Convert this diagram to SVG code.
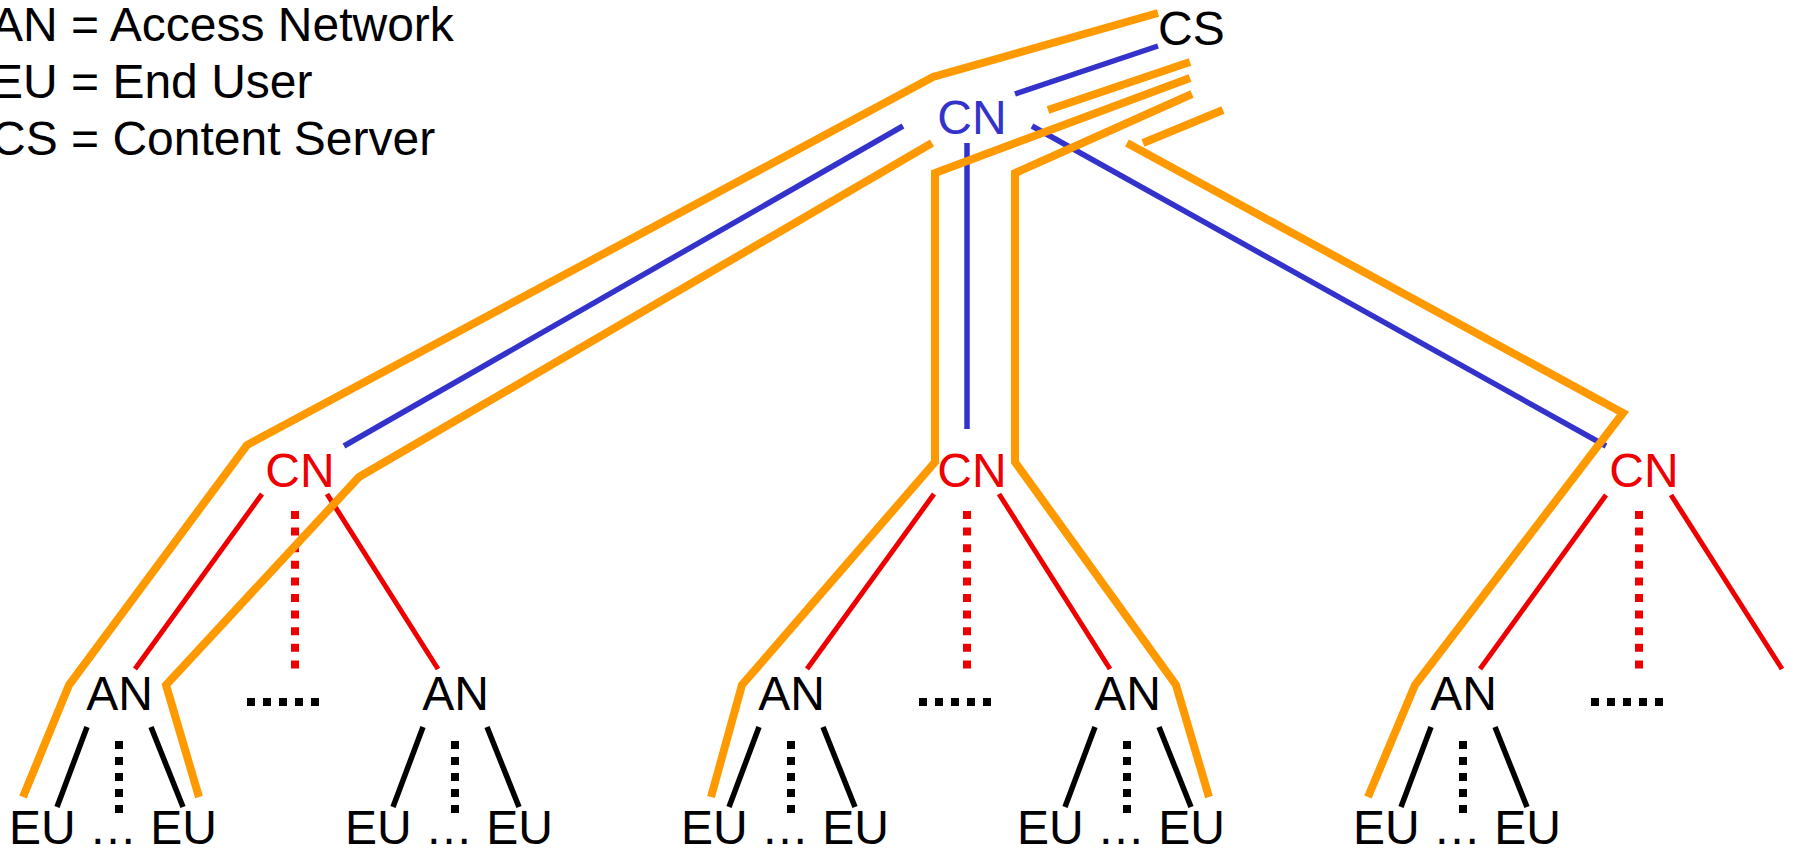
<svg xmlns="http://www.w3.org/2000/svg" width="1794" height="848" viewBox="0 0 1794 848">
  <style>
    text { font-family: "Liberation Sans", Arial, sans-serif; font-size: 48px; }
    .blk { fill: #000000; }
    .cn-top { fill: #3333CC; }
    .cn { fill: #EE0000; }
    .route { fill: none; stroke: #FF9900; stroke-width: 8; stroke-linejoin: miter; }
    .core { fill: none; stroke: #3333CC; stroke-width: 5.5; }
    .agg { fill: none; stroke: #EE0000; stroke-width: 5; }
    .acc { fill: none; stroke: #000000; stroke-width: 5.5; }
    .agg-more { fill: none; stroke: #EE0000; stroke-width: 8; stroke-dasharray: 8 8.6; }
    .acc-more { fill: none; stroke: #000000; stroke-width: 8; stroke-dasharray: 8 8; }
  </style>
  <rect width="1794" height="848" fill="#FFFFFF"/>

  <!-- legend -->
  <g id="legend">
    <text class="blk" x="-9" y="41">AN = Access Network</text>
    <text class="blk" x="-9" y="98">EU = End User</text>
    <text class="blk" x="-9" y="155">CS = Content Server</text>
  </g>

  <!-- connectors -->
  <g id="connectors">
    <!-- core links from the top CN -->
    <line class="core" x1="1158" y1="46" x2="1015" y2="94"/>
    <line class="core" x1="903" y1="126" x2="344" y2="446"/>
    <line class="core" x1="967" y1="143" x2="967" y2="429"/>
    <line class="core" x1="1032" y1="126" x2="1606" y2="446"/>

    <!-- aggregation links CN -> AN -->
    <line class="agg" x1="262" y1="494" x2="135" y2="669"/>
    <line class="agg" x1="327" y1="494" x2="438" y2="669"/>
    <line class="agg-more" x1="295" y1="511" x2="295" y2="677"/>
    <line class="agg" x1="934" y1="494" x2="807" y2="669"/>
    <line class="agg" x1="999" y1="494" x2="1110" y2="669"/>
    <line class="agg-more" x1="967" y1="511" x2="967" y2="677"/>
    <line class="agg" x1="1606" y1="495" x2="1480" y2="669"/>
    <line class="agg" x1="1671" y1="495" x2="1782" y2="669"/>
    <line class="agg-more" x1="1639" y1="511" x2="1639" y2="677"/>

    <!-- further ANs -->
    <line class="acc-more" x1="247" y1="702" x2="319" y2="702"/>
    <line class="acc-more" x1="919" y1="702" x2="991" y2="702"/>
    <line class="acc-more" x1="1591" y1="702" x2="1663" y2="702"/>

    <!-- access links AN -> EU -->
    <g id="acc-1">
      <line class="acc" x1="87" y1="727" x2="57" y2="807"/>
      <line class="acc" x1="151" y1="727" x2="183" y2="807"/>
      <line class="acc-more" x1="119" y1="741" x2="119" y2="813"/>
    </g>
    <g id="acc-2">
      <line class="acc" x1="423" y1="727" x2="393" y2="807"/>
      <line class="acc" x1="487" y1="727" x2="519" y2="807"/>
      <line class="acc-more" x1="455" y1="741" x2="455" y2="813"/>
    </g>
    <g id="acc-3">
      <line class="acc" x1="759" y1="727" x2="729" y2="807"/>
      <line class="acc" x1="823" y1="727" x2="855" y2="807"/>
      <line class="acc-more" x1="791" y1="741" x2="791" y2="813"/>
    </g>
    <g id="acc-4">
      <line class="acc" x1="1095" y1="727" x2="1065" y2="807"/>
      <line class="acc" x1="1159" y1="727" x2="1191" y2="807"/>
      <line class="acc-more" x1="1127" y1="741" x2="1127" y2="813"/>
    </g>
    <g id="acc-5">
      <line class="acc" x1="1431" y1="727" x2="1401" y2="807"/>
      <line class="acc" x1="1495" y1="727" x2="1527" y2="807"/>
      <line class="acc-more" x1="1463" y1="741" x2="1463" y2="813"/>
    </g>

    <!-- content delivery routes from CS -->
    <polyline class="route" points="1158,13 933,77 247,445 69,685 23,797"/>
    <polyline class="route" points="1048,110 1190,62"/>
    <polyline class="route" points="932,143 359,477 166,685 199,797"/>
    <polyline class="route" points="1190,78 935,173 935,462 742,685 711,797"/>
    <polyline class="route" points="1192,94 1015,173 1015,462 1176,685 1209,797"/>
    <polyline class="route" points="1223,110 1143,143"/>
    <polyline class="route" points="1127,143 1623,413 1415,685 1368,797"/>
  </g>

  <!-- nodes -->
  <g id="cs"><text class="blk" x="1158" y="45">CS</text></g>
  <g id="cn-top"><text class="cn-top" x="972" y="134" text-anchor="middle">CN</text></g>
  <g id="cn-1"><text class="cn" x="300" y="487" text-anchor="middle">CN</text></g>
  <g id="cn-2"><text class="cn" x="972" y="487" text-anchor="middle">CN</text></g>
  <g id="cn-3"><text class="cn" x="1644" y="487" text-anchor="middle">CN</text></g>

  <g id="an-1"><text class="blk" x="119.5" y="710" text-anchor="middle">AN</text></g>
  <g id="an-2"><text class="blk" x="455.5" y="710" text-anchor="middle">AN</text></g>
  <g id="an-3"><text class="blk" x="791.5" y="710" text-anchor="middle">AN</text></g>
  <g id="an-4"><text class="blk" x="1127.5" y="710" text-anchor="middle">AN</text></g>
  <g id="an-5"><text class="blk" x="1463.5" y="710" text-anchor="middle">AN</text></g>

  <g id="eu-1"><text class="blk" x="9" y="844">EU … EU</text></g>
  <g id="eu-2"><text class="blk" x="345" y="844">EU … EU</text></g>
  <g id="eu-3"><text class="blk" x="681" y="844">EU … EU</text></g>
  <g id="eu-4"><text class="blk" x="1017" y="844">EU … EU</text></g>
  <g id="eu-5"><text class="blk" x="1353" y="844">EU … EU</text></g>
</svg>
